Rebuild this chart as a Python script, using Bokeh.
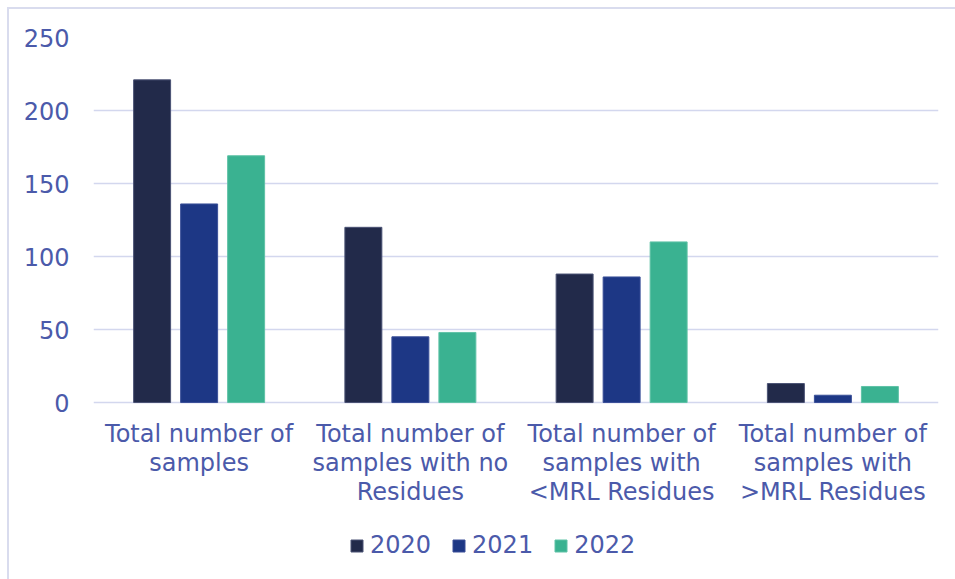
from bokeh.plotting import figure
from bokeh.models import FactorRange, Range1d, FixedTicker, Legend, LegendItem, ColumnDataSource
from bokeh.core.properties import value
from bokeh.transform import dodge
from bokeh.embed import file_html
from bokeh.resources import INLINE

categories = [
    "Total number of\nsamples",
    "Total number of\nsamples with no\nResidues",
    "Total number of\nsamples with\n<MRL Residues",
    "Total number of\nsamples with\n>MRL Residues",
]
years = ["2020", "2021", "2022"]
v2020 = [221, 120, 88, 13]
v2021 = [136, 45, 86, 5]
v2022 = [169, 48, 110, 11]
y_ticks = [0, 50, 100, 150, 200, 250]

colors = ["#222A4A", "#1D3785", "#3AB291"]
outlines = ["#4A5274", "#3A4F98", "#5FC2A6"]
TEXT = "#4B5AAA"
GRID = "#D3D7EE"
FONT = "DejaVu Sans"

# layout: frame extends below zero so category labels and legend sit inside it
Y_MIN = -121.2
LABEL_Y = -12.0

src = ColumnDataSource(dict(cat=categories, y2020=v2020, y2021=v2021, y2022=v2022,
                            ly=[LABEL_Y] * len(categories)))

p = figure(
    x_range=FactorRange(factors=categories),
    y_range=Range1d(Y_MIN, 250),
    frame_width=845, frame_height=542,
    output_backend="svg", toolbar_location=None,
    min_border_left=84, min_border_right=17, min_border_top=28, min_border_bottom=0,
)
p.margin = (7, 0, 0, 7)
p.styles = {"border-left": "2px solid #D9DCEE", "border-top": "2px solid #D9DCEE"}
p.outline_line_color = None
p.background_fill_color = "white"
p.border_fill_color = "white"

offsets = [-0.2225, 0.0, 0.2225]
renderers = []
for yr, off, c, oc in zip(years, offsets, colors, outlines):
    r = p.vbar(x=dodge("cat", off, range=p.x_range), top="y" + yr, width=0.175,
               source=src, fill_color=c, line_color=oc, line_width=1)
    renderers.append(r)

p.text(x="cat", y="ly", text="cat", source=src, text_align="center", text_baseline="top",
       text_font=value(FONT), text_font_size="24px", text_color=TEXT, text_line_height=1.04)

p.yaxis.ticker = FixedTicker(ticks=y_ticks)
p.yaxis.axis_line_color = None
p.yaxis.major_tick_line_color = None
p.yaxis.minor_tick_line_color = None
p.yaxis.major_tick_out = 0
p.yaxis.major_tick_in = 0
p.yaxis.major_label_standoff = 24
p.yaxis.major_label_text_font = FONT
p.yaxis.major_label_text_font_size = "24px"
p.yaxis.major_label_text_color = TEXT

p.xaxis.visible = False

p.xgrid.grid_line_color = None
p.ygrid.grid_line_color = GRID
p.ygrid.grid_line_width = 1.5
p.ygrid.ticker = FixedTicker(ticks=y_ticks)

legend = Legend(items=[LegendItem(label=yr, renderers=[r]) for yr, r in zip(years, renderers)],
                orientation="horizontal", location=(256, 20))
legend.label_text_font = FONT
legend.label_text_font_size = "24px"
legend.label_text_color = TEXT
legend.glyph_width = 15
legend.glyph_height = 15
legend.label_standoff = 6
legend.spacing = 20
legend.label_height = 28
legend.border_line_color = None
legend.background_fill_alpha = 0
legend.padding = 0
legend.margin = 0
p.add_layout(legend)

open("out.html", "w").write(file_html(p, INLINE))
